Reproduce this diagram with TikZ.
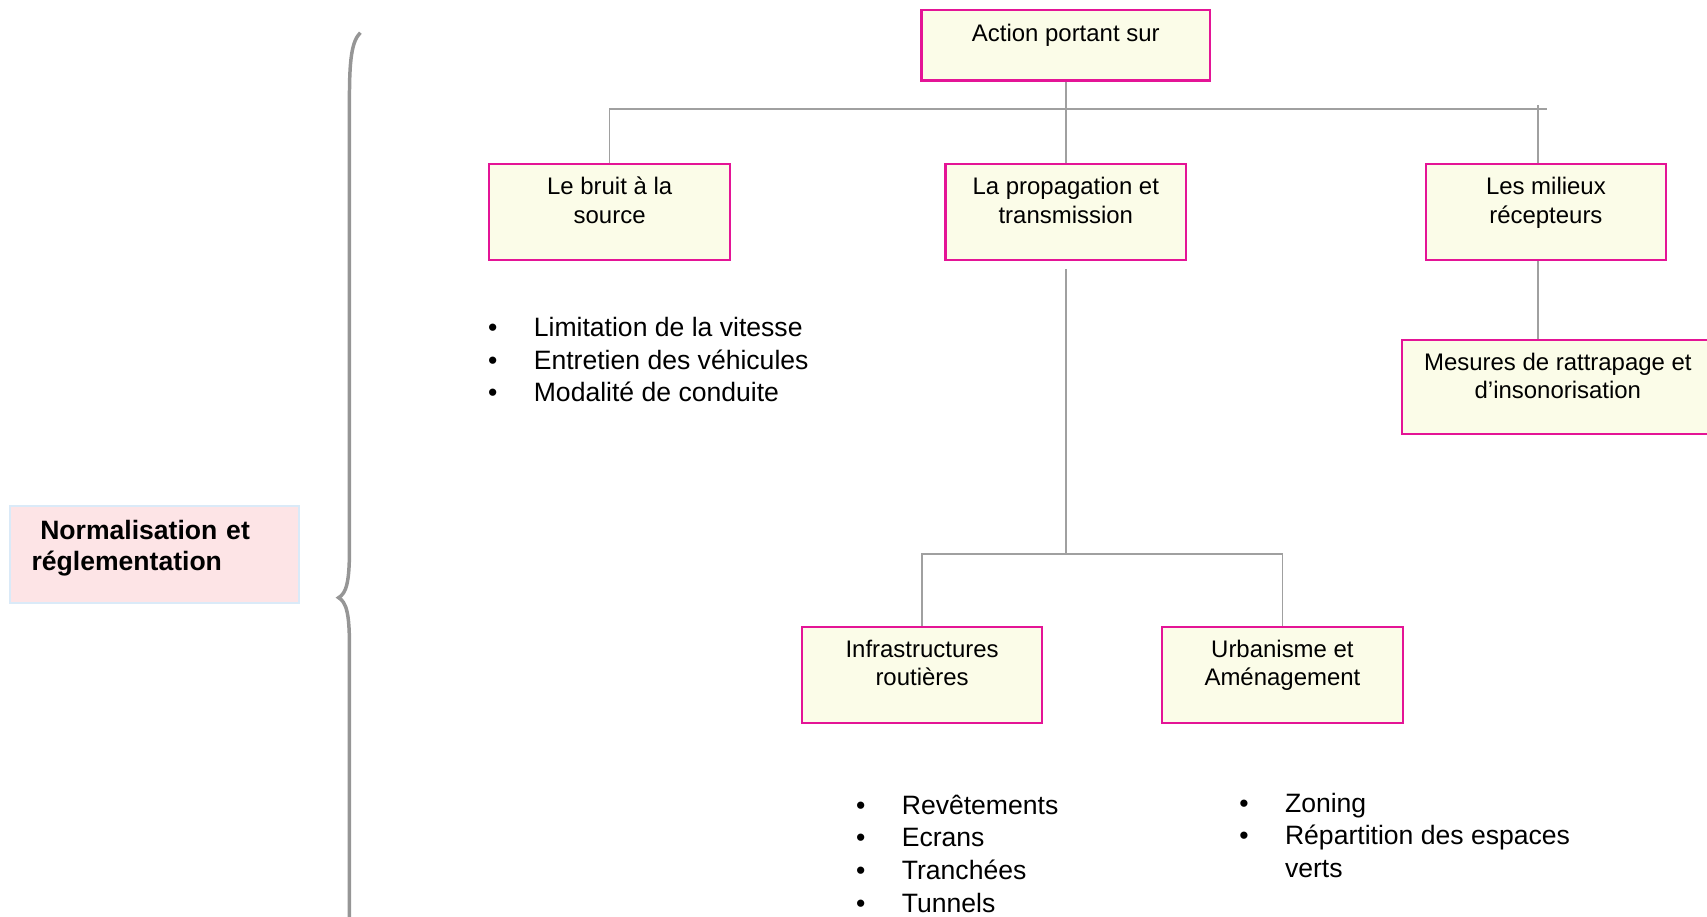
\documentclass[tikz,border=0pt]{standalone}
\usepackage{fontspec}
\setmainfont{Liberation Sans}
\usepackage{tikz}

\definecolor{boxline}{RGB}{228,20,150}
\definecolor{boxfill}{RGB}{251,252,232}
\definecolor{linkgray}{RGB}{160,160,160}
\definecolor{bracegray}{RGB}{150,150,150}
\definecolor{normfill}{RGB}{253,228,230}
\definecolor{normline}{RGB}{218,234,248}
\newcommand{\itm}{\makebox[21pt][l]{\textbullet}}

\begin{document}
\begin{tikzpicture}[x=0.5pt,y=-0.5pt,
    orgbox/.style={draw=boxline, fill=boxfill, line width=1pt, anchor=north, align=center,
      font=\fontsize{11}{13}\selectfont, inner xsep=3pt, inner ysep=6pt,
      text height=21pt, text depth=11pt, minimum width=110.5pt},
    link/.style={draw=linkgray, line width=0.75pt},
    bullets/.style={anchor=base west, align=left, inner sep=0pt,
      font=\fontsize{12.2}{15}\selectfont}]
  \useasboundingbox (0,0) rectangle (1568,842);
  \clip (0,0) rectangle (1568,842);

  \node (norm) at (8,464) [anchor=north west, draw=normline, fill=normfill, line width=1pt,
    align=left, text width=113pt, inner xsep=10pt, inner ysep=0pt, text height=15.5pt,
    text depth=29pt, font=\bfseries\fontsize{12.2}{14}\selectfont]
    {\hspace*{4pt}Normalisation et\\réglementation};
  \draw[bracegray, line width=1.6pt] (331,30) .. controls (323,38) and (321,55) .. (321,90)
    -- (321,505) .. controls (321,535) and (318,545) .. (311,549)
    .. controls (318,553) and (321,563) .. (321,593) -- (321,870);

  \node (act) at (979,8) [orgbox, minimum width=132.5pt, text height=8.5pt, text depth=12pt]
    {Action portant sur};
  \node (src) at (560,150) [orgbox] {Le bruit à la\\source};
  \node (prop) at (979,150) [orgbox] {La propagation et\\transmission};
  \node (recv) at (1420,150) [orgbox] {Les milieux\\récepteurs};
  \node (mes) at (1431,311) [orgbox, minimum width=143pt, text depth=10.5pt]
    {Mesures de rattrapage et\\d’insonorisation};
  \node (infra) at (847,575) [orgbox] {Infrastructures\\routières};
  \node (urb) at (1178,575) [orgbox] {Urbanisme et\\Aménagement};

  \coordinate (busR) at (1421,100);
  \coordinate (split) at (979,509);
  \draw[link] (act) -- (prop);
  \draw[link] (src.north) |- (busR);
  \draw[link] ([xshift=-3.5pt]recv.north) -- ++(0,-54);
  \draw[link] ([xshift=-3.5pt]recv.south) -- ([xshift=-3.5pt]recv.south |- mes.north);
  \draw[link] ([yshift=-3.5pt]prop.south) -- (split);
  \draw[link] (infra.north) |- (split) -| (urb.north);

  \node (srclist) at (448,369) [bullets]
    {\itm Limitation de la vitesse\\\itm Entretien des véhicules\\\itm Modalité de conduite};
  \node (infralist) at (786,838) [bullets]
    {\itm Revêtements\\\itm Ecrans\\\itm Tranchées\\\itm Tunnels};
  \node (urblist) at (1138,806) [bullets]
    {\itm Zoning\\\itm Répartition des espaces\\\hspace*{21pt}verts};
\end{tikzpicture}
\end{document}
